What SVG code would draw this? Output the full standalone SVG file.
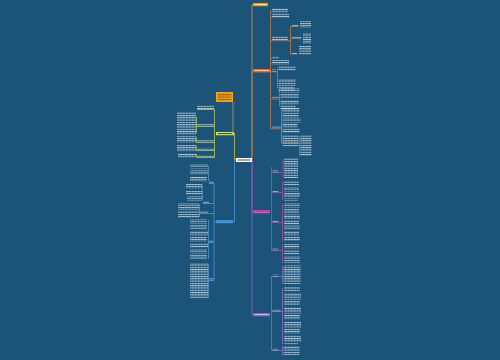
<svg xmlns="http://www.w3.org/2000/svg" width="500" height="360" viewBox="0 0 500 360">
<defs>
<pattern id="ln" width="1.5" height="2.3" patternUnits="userSpaceOnUse"><rect width="1.2" height="1" fill="#d0dde7"/></pattern>
<pattern id="ld" width="1.5" height="2.3" patternUnits="userSpaceOnUse"><rect width="1.2" height="1" fill="#6a4010"/></pattern>
<pattern id="lw" width="1.5" height="2" patternUnits="userSpaceOnUse"><rect width="1.1" height="1" fill="#ffffff"/></pattern>
</defs>
<style>
.tx{fill:url(#ln)}
.c{fill:none;stroke-width:0.8}
.o{stroke:#c8743c}.a{stroke:#c99a48}.m{stroke:#b04aa4}.p{stroke:#8a6cc4}.y{stroke:#b5c646}.b{stroke:#4a96d0}
</style>
<rect width="500" height="360" fill="#1c5479"/>
<g id="connectors">
<path class="c a" d="M252 160 V4.6 H253"/>
<path class="c o" d="M252 160 V70.7 H253"/>
<path class="c p" d="M252 160 V314.7 H253"/>
<path class="c m" d="M252 160 V211.7 H253"/>
<path class="c y" d="M236 160 H234.5 V133.6 H234"/>
<path class="c b" d="M236 160 H234.5 V221.6 H233"/>
<path class="c a" d="M233 102 V132"/>
<path class="c o" d="M271 70.7 H270.5 M270.5 11 V128.8 M270.5 11 H272 M270.5 17 H272 M270.5 40.7 H288 H290.5 M290.5 26.5 V54 M290.5 26.5 H299 M290.5 38.5 H302 M290.5 54 H298 M270.5 58.7 H272 M270.5 63 H272 M270.5 71.7 H277.5 M277.5 68 V88.5 M270.5 99 H279.5 M279.5 89 V106.5 M270.5 128.8 H281.5 M281.5 109 V143 M281.5 143 H299.5 M299.5 136 V156"/>
<path class="c m" d="M271.5 167 V251 M271.5 172.5 H283 M283 159 V178 M271.5 192.5 H282.5 M282.5 181 V200 M271.5 222.5 H282.5 M282.5 204 V241 M271.5 250.5 H282.5 M282.5 244 V263"/>
<path class="c p" d="M271.5 276 V350.5 M271.5 276.5 H282.5 M282.5 266 V284 M271.5 311.5 H282.5 M282.5 288 V344 M271.5 350.5 H282.5 M282.5 346 V355"/>
<path class="c y" d="M214.5 109.5 V157.5 M214.5 109.5 H197 M214.5 126.5 H197 M196.5 117 V133 M214.5 142.5 H196.5 M196.5 137 V142.5 M214.5 150.5 H196.5 M196.5 146 V151 M214.5 157.5 H196.5 M196.5 154 V157.5"/>
<path class="c b" d="M234.5 221.6 H214 M214 183.5 V280.5 M214 183.5 H208.5 M208.5 166 V181 M214 203.5 H202.5 M202.5 185 V200 M214 213.5 H199.5 M199.5 204 V217 M214 242.5 H208.5 M208.5 220 V259 M214 280.5 H208.5 M208.5 264 V298"/>
</g>
<g id="center"><rect x="236" y="158" width="16" height="4" fill="#ffffff"/><rect x="237.5" y="159.5" width="13" height="1" fill="#4a4a4a"/></g>
<g id="top-node"><rect x="253" y="3" width="15" height="3.2" fill="#f0a020"/><rect x="255" y="4.1" width="11" height="1" fill="url(#lw)"/></g>
<g id="orange-node"><rect x="253" y="69" width="18" height="3.4" fill="#e8672c"/><rect x="254.5" y="70.2" width="15" height="1" fill="url(#lw)"/></g>
<g id="magenta-node"><rect x="253" y="210" width="17" height="3.4" fill="#c83ea8"/><rect x="254.5" y="211.2" width="14" height="1" fill="url(#lw)"/></g>
<g id="purple-node"><rect x="253" y="313" width="17" height="3.4" fill="#8b62c4"/><rect x="254.5" y="314.2" width="14" height="1" fill="url(#lw)"/></g>
<g id="yellow-node"><rect x="216" y="132" width="18" height="3.2" fill="#d9ea55"/><rect x="217.5" y="133.1" width="15" height="1" fill="#3a4a10"/></g>
<g id="blue-node"><rect x="216" y="220" width="17" height="3.2" fill="#3c8fd6"/><rect x="217.5" y="221.1" width="14" height="1" fill="url(#lw)"/></g>
<g id="callout"><rect x="216" y="92" width="17" height="10" fill="#f2a31d"/><rect x="217.5" y="93.5" width="14" height="7" fill="url(#ld)"/></g>
<g id="orange-children">
<rect class="tx" x="272" y="8" width="16" height="4.4"/>
<rect class="tx" x="272" y="13.5" width="17" height="4.4"/>
<rect class="tx" x="272" y="36" width="16" height="4.4"/>
<rect class="tx" x="292" y="24.5" width="6" height="2"/>
<rect class="tx" x="300" y="21" width="11" height="6.6"/>
<rect class="tx" x="292" y="36.5" width="9" height="2"/>
<rect class="tx" x="303" y="33" width="8" height="11"/>
<rect class="tx" x="292" y="52" width="5" height="2"/>
<rect class="tx" x="299" y="46" width="12" height="9"/>
<rect class="tx" x="272" y="56.5" width="7" height="2"/>
<rect class="tx" x="272" y="60" width="17" height="4.4"/>
<rect class="tx" x="272" y="69.5" width="4" height="2"/>
<rect class="tx" x="278.5" y="66" width="17" height="4.4"/>
<rect class="tx" x="278.5" y="79" width="17" height="6.6"/>
<rect class="tx" x="278.5" y="87" width="16" height="4.4"/>
<rect class="tx" x="272" y="96.8" width="7" height="2"/>
<rect class="tx" x="280.5" y="88" width="19" height="4.4"/>
<rect class="tx" x="280.5" y="94" width="18" height="4.4"/>
<rect class="tx" x="280.5" y="100" width="18" height="4.4"/>
<rect class="tx" x="280.5" y="105" width="15" height="4.4"/>
<rect class="tx" x="272" y="126.5" width="9" height="2"/>
<rect class="tx" x="282.5" y="108" width="17" height="4.4"/>
<rect class="tx" x="282.5" y="113" width="16" height="4.4"/>
<rect class="tx" x="282.5" y="118" width="18" height="4.4"/>
<rect class="tx" x="282.5" y="123" width="15" height="4.4"/>
<rect class="tx" x="282.5" y="128.5" width="17" height="4.4"/>
<rect class="tx" x="282.5" y="135" width="16" height="4.4"/>
<rect class="tx" x="282.5" y="140" width="16" height="6.6"/>
<rect class="tx" x="300.5" y="135" width="11" height="21"/>
</g>
<g id="magenta-children">
<rect class="tx" x="272.5" y="170.5" width="6" height="2"/>
<rect class="tx" x="284" y="158" width="14" height="20"/>
<rect class="tx" x="272.5" y="190.5" width="6" height="2"/>
<rect class="tx" x="284" y="181" width="15" height="4.4"/>
<rect class="tx" x="284" y="187" width="15" height="4.4"/>
<rect class="tx" x="284" y="193" width="16" height="4.4"/>
<rect class="tx" x="284" y="198.5" width="14" height="2"/>
<rect class="tx" x="272.5" y="220.5" width="6" height="2"/>
<rect class="tx" x="284" y="203" width="16" height="4.4"/>
<rect class="tx" x="284" y="209" width="15" height="4.4"/>
<rect class="tx" x="284" y="214.5" width="16" height="4.4"/>
<rect class="tx" x="284" y="220" width="15" height="4.4"/>
<rect class="tx" x="284" y="225.5" width="16" height="4.4"/>
<rect class="tx" x="284" y="231" width="15" height="4.4"/>
<rect class="tx" x="284" y="236.5" width="16" height="4.4"/>
<rect class="tx" x="272.5" y="248.5" width="6" height="2"/>
<rect class="tx" x="284" y="244" width="15" height="4.4"/>
<rect class="tx" x="284" y="250" width="15" height="4.4"/>
<rect class="tx" x="284" y="256" width="16" height="6.6"/>
</g>
<g id="purple-children">
<rect class="tx" x="272.5" y="274.5" width="6" height="2"/>
<rect class="tx" x="283.5" y="265" width="17" height="19"/>
<rect class="tx" x="272.5" y="309.5" width="8" height="2"/>
<rect class="tx" x="284" y="287" width="16" height="4.4"/>
<rect class="tx" x="284" y="293" width="17" height="6.6"/>
<rect class="tx" x="284" y="301" width="16" height="4.4"/>
<rect class="tx" x="284" y="307" width="17" height="6.6"/>
<rect class="tx" x="284" y="315" width="16" height="4.4"/>
<rect class="tx" x="284" y="321" width="17" height="6.6"/>
<rect class="tx" x="284" y="329" width="16" height="4.4"/>
<rect class="tx" x="284" y="335" width="17" height="6.6"/>
<rect class="tx" x="284" y="343" width="14" height="2"/>
<rect class="tx" x="272.5" y="348.5" width="6" height="2"/>
<rect class="tx" x="283.5" y="346" width="16" height="8.8"/>
</g>
<g id="yellow-children">
<rect class="tx" x="197" y="105" width="17" height="4.4"/>
<rect class="tx" x="197" y="124.2" width="17" height="2"/>
<rect class="tx" x="177" y="112" width="19" height="11"/>
<rect class="tx" x="177" y="123.5" width="19" height="11"/>
<rect class="tx" x="197" y="140.2" width="17" height="2"/>
<rect class="tx" x="177" y="136" width="19" height="6.6"/>
<rect class="tx" x="197" y="148.2" width="17" height="2"/>
<rect class="tx" x="177" y="145" width="19" height="6.6"/>
<rect class="tx" x="197" y="155.2" width="17" height="2"/>
<rect class="tx" x="178" y="153" width="18" height="4.4"/>
</g>
<g id="blue-children">
<rect class="tx" x="209" y="181.3" width="4.5" height="2"/>
<rect class="tx" x="190" y="164" width="18" height="4.4"/>
<rect class="tx" x="190" y="170.5" width="18" height="4.4"/>
<rect class="tx" x="190" y="177" width="17" height="4.4"/>
<rect class="tx" x="203" y="201.3" width="6" height="2"/>
<rect class="tx" x="186" y="184" width="16" height="4.4"/>
<rect class="tx" x="186" y="190" width="16" height="4.4"/>
<rect class="tx" x="187" y="196" width="15" height="4.4"/>
<rect class="tx" x="200" y="211.3" width="8" height="2"/>
<rect class="tx" x="178" y="203" width="21" height="6.6"/>
<rect class="tx" x="178" y="211" width="21" height="6.6"/>
<rect class="tx" x="209" y="240.3" width="4.5" height="2"/>
<rect class="tx" x="190" y="219" width="17" height="4.4"/>
<rect class="tx" x="190" y="225" width="17" height="4.4"/>
<rect class="tx" x="190" y="231" width="18" height="4.4"/>
<rect class="tx" x="190" y="237" width="17" height="4.4"/>
<rect class="tx" x="190" y="243" width="18" height="4.4"/>
<rect class="tx" x="190" y="249" width="17" height="4.4"/>
<rect class="tx" x="190" y="255" width="17" height="4.4"/>
<rect class="tx" x="209" y="278.3" width="4.5" height="2"/>
<rect class="tx" x="190" y="263" width="18" height="36"/>
</g>
</svg>
